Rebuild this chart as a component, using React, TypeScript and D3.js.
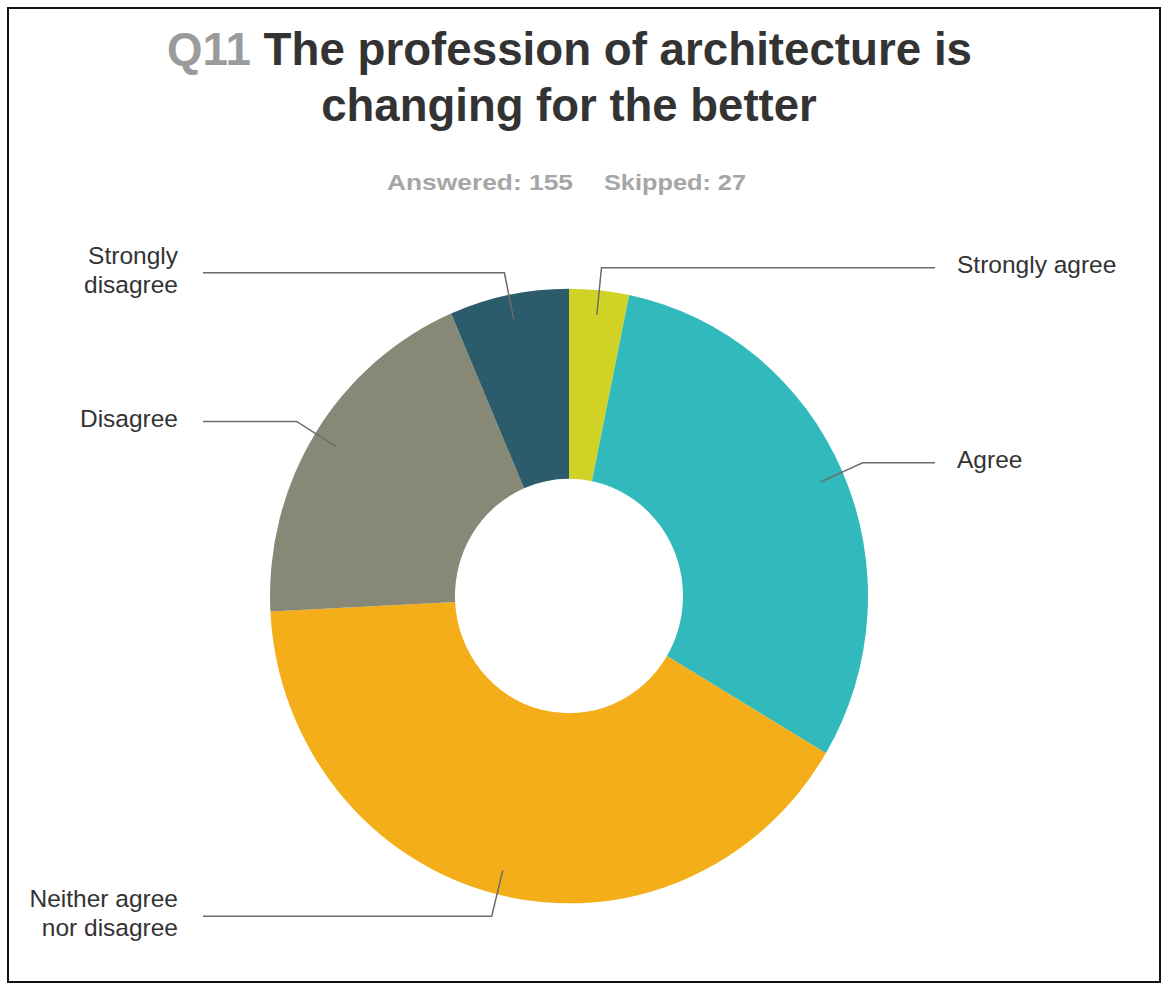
import React from "react";
import * as d3 from "d3";

const categories = [
  "Strongly agree",
  "Agree",
  "Neither agree nor disagree",
  "Disagree",
  "Strongly disagree",
];
const counts = [5, 47, 63, 30, 10];
const labelLines = [
  ["Strongly agree"],
  ["Agree"],
  ["Neither agree", "nor disagree"],
  ["Disagree"],
  ["Strongly", "disagree"],
];
const colors = ["#d0d226", "#31b9bc", "#f3ae1a", "#878876", "#2c5c6b"];
const titleQ = "Q11";
const titleLine1 = " The profession of architecture is";
const titleLine2 = "changing for the better";
const answeredText = "Answered: 155";
const skippedText = "Skipped: 27";

const W = 1162;
const H = 983;
const CX = 569;
const CY = 596;
const SY = 1.028;
const R_OUT = 299;
const R_IN = 114;
const R_LEAD0 = 275;
const R_LEAD1 = 321;
const LEFT_LINE_END = 203;
const RIGHT_LINE_END = 935;

export default function App() {
  const pie = d3
    .pie<number>()
    .sort(null)
    .value((d) => d)
    .startAngle(0)
    .endAngle(2 * Math.PI);
  const arcs = pie(counts);
  const arc = d3.arc<d3.PieArcDatum<number>>().innerRadius(R_IN).outerRadius(R_OUT);

  const font = "'Liberation Sans', Arial, sans-serif";

  return (
    <div style={{ position: "absolute", left: 0, top: 0 }}>
      <svg width={W} height={H} style={{ display: "block", background: "#fff" }}>
        <rect x={8} y={8} width={1152} height={974} fill="#fff" stroke="#111" strokeWidth={2} />
        <text
          x={167}
          y={65}
          fontFamily={font}
          fontWeight="bold"
          fontSize={45.5}
          textLength={805}
          lengthAdjust="spacingAndGlyphs"
        >
          <tspan fill="#9b9b9b">{titleQ}</tspan>
          <tspan fill="#333">{titleLine1}</tspan>
        </text>
        <text
          x={569}
          y={121}
          textAnchor="middle"
          fontFamily={font}
          fontWeight="bold"
          fontSize={45.5}
          fill="#333"
        >
          {titleLine2}
        </text>
        <text
          x={387}
          y={190}
          fontFamily={font}
          fontWeight="bold"
          fontSize={22}
          fill="#a6a6a6"
          textLength={186}
          lengthAdjust="spacingAndGlyphs"
        >
          {answeredText}
        </text>
        <text
          x={604}
          y={190}
          fontFamily={font}
          fontWeight="bold"
          fontSize={22}
          fill="#a6a6a6"
          textLength={142}
          lengthAdjust="spacingAndGlyphs"
        >
          {skippedText}
        </text>

        <g transform={`translate(${CX},${CY}) scale(1,${SY})`}>
          {arcs.map((a, i) => (
            <path key={categories[i]} d={arc(a) || ""} fill={colors[i]} />
          ))}
        </g>

        {arcs.map((a, i) => {
          const mid = (a.startAngle + a.endAngle) / 2;
          const x0 = CX + R_LEAD0 * Math.sin(mid);
          const y0 = CY - R_LEAD0 * Math.cos(mid) * SY;
          const x1 = CX + R_LEAD1 * Math.sin(mid);
          const y1 = CY - R_LEAD1 * Math.cos(mid) * SY;
          const right = Math.sin(mid) > 0;
          const x2 = right ? RIGHT_LINE_END : LEFT_LINE_END;
          const tx = right ? x2 + 22 : LEFT_LINE_END - 25;
          const lines = labelLines[i];
          const lh = 29;
          const cy = y1 - 3;
          return (
            <g key={"lbl" + i}>
              <polyline
                points={`${x0},${y0} ${x1},${y1} ${x2},${y1}`}
                fill="none"
                stroke="#6b6b6b"
                strokeWidth={1.5}
              />
              <text
                fontFamily={font}
                fontSize={24.5}
                fill="#333"
                textAnchor={right ? "start" : "end"}
              >
                {lines.map((t, j) => (
                  <tspan
                    key={j}
                    x={tx}
                    y={cy + (j - (lines.length - 1) / 2) * lh}
                    dy="0.35em"
                  >
                    {t}
                  </tspan>
                ))}
              </text>
            </g>
          );
        })}
      </svg>
    </div>
  );
}
